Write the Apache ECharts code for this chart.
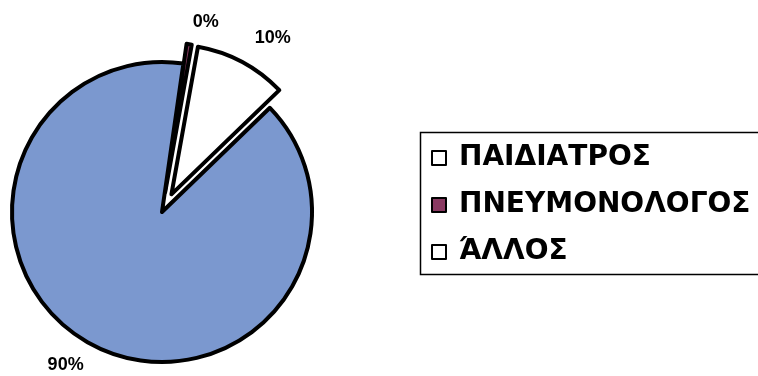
<!DOCTYPE html>
<html>
<head>
<meta charset="utf-8">
<script src="https://cdn.jsdelivr.net/npm/echarts@6/dist/echarts.min.js"></script>
<style>
  html, body { margin: 0; padding: 0; background: #ffffff; }
  #chart { width: 758px; height: 376px; }
</style>
</head>
<body>
<div id="chart"></div>
<script>
// Specialist categories and their share (%)
const categories = ['ΠΑΙΔΙΑΤΡΟΣ', 'ΠΝΕΥΜΟΝΟΛΟΓΟΣ', 'ΆΛΛΟΣ'];
const shares = [10, 0, 90];
// Slice fills and legend marker fills
const sliceColors = ['#ffffff', '#8a3a62', '#7b98cf'];
const legendMarkerColors = ['#ffffff', '#8a3a62', '#ffffff'];
// Slices pulled out of the pie
const explodedSlices = [true, true, false];
// Radial distance of each percentage label beyond the rim
const labelDistances = [27, 22, 22];

const chart = echarts.init(document.getElementById('chart'), null, { renderer: 'canvas' });

chart.setOption({
  backgroundColor: '#ffffff',
  animation: false,
  // Legend frame; it runs on past the right edge of the canvas
  graphic: [{
    type: 'rect',
    left: 418,
    top: 130,
    shape: { width: 420, height: 142 },
    style: { fill: 'none', stroke: '#000000', lineWidth: 1.5 },
    silent: true
  }],
  legend: {
    orient: 'vertical',
    left: 418,
    top: 130,
    padding: [13, 0, 10, 13],
    itemGap: 17,
    itemWidth: 14,
    itemHeight: 14,
    icon: 'rect',
    selectedMode: false,
    itemStyle: { borderColor: '#000000', borderWidth: 2 },
    textStyle: {
      fontFamily: 'DejaVu Sans',
      fontWeight: 'bold',
      fontSize: 28,
      lineHeight: 30,
      color: '#000000',
      padding: [0, 0, 0, 8]
    },
    data: categories.map((name, i) => ({
      name: name,
      itemStyle: { color: legendMarkerColors[i] }
    }))
  },
  series: [{
    type: 'pie',
    center: [162, 212],
    radius: 150,
    startAngle: 44,
    clockwise: false,
    minAngle: 2,
    selectedMode: 'multiple',
    selectedOffset: 20,
    avoidLabelOverlap: false,
    itemStyle: { borderColor: '#000000', borderWidth: 4 },
    select: { itemStyle: { borderColor: '#000000', borderWidth: 4 } },
    emphasis: { disabled: true },
    label: {
      show: true,
      position: 'outside',
      formatter: '{d}%',
      color: '#000000',
      fontFamily: 'Liberation Sans',
      fontWeight: 'bold',
      fontSize: 18,
      distanceToLabelLine: 0
    },
    labelLine: { show: false, length: 22, length2: 0 },
    data: categories.map((name, i) => ({
      name: name,
      value: shares[i],
      selected: explodedSlices[i],
      itemStyle: { color: sliceColors[i] },
      labelLine: { length: labelDistances[i] }
    }))
  }]
});
</script>
</body>
</html>
